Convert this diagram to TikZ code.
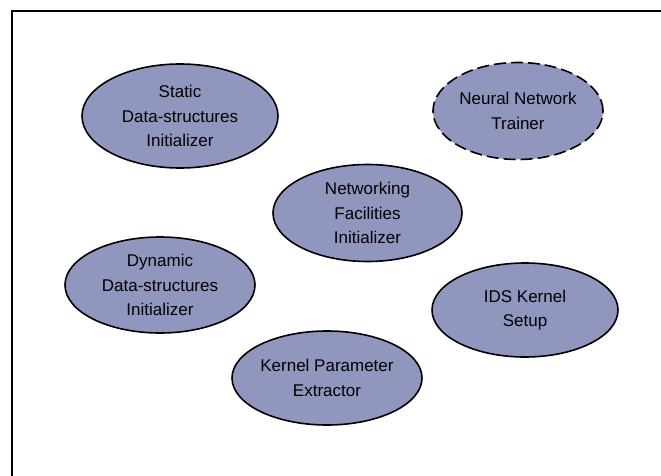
\documentclass[tikz,border=0pt]{standalone}
\usepackage{fontspec}
\setmainfont{Liberation Sans}
\usetikzlibrary{shapes.geometric}
\definecolor{blobfill}{RGB}{144,150,190}
\begin{document}
\begin{tikzpicture}[x=1pt,y=-1pt,
  module/.style={ellipse, draw=black, line width=1.6pt, fill=blobfill,
    minimum width=#1, align=center, inner sep=0pt,
    font=\fontsize{17}{24.5}\selectfont},
  module/.default=190pt,
  frameline/.style={line width=2pt, line cap=rect}]
\useasboundingbox (0,0) rectangle (661,476);
% frame: top and left edges only
\draw[frameline] (12,476) -- (12,11) -- (661,11);
\node[module=196pt, minimum height=104pt] (static) at (180,116) {Static\\Data-structures\\Initializer};
\node[module=170pt, minimum height=97pt, dash pattern=on 12pt off 5pt] (nnt) at (518,111) {Neural Network\\Trainer};
\node[module=189pt, minimum height=97pt] (net) at (367.5,213) {Networking\\Facilities\\Initializer};
\node[module, minimum height=96pt] (dyn) at (160,285) {Dynamic\\Data-structures\\Initializer};
\node[module=186pt, minimum height=94pt] (ids) at (525,310) {IDS Kernel\\Setup};
\node[module, minimum height=94pt] (kpe) at (327,378) {Kernel Parameter\\Extractor};
\end{tikzpicture}
\end{document}
